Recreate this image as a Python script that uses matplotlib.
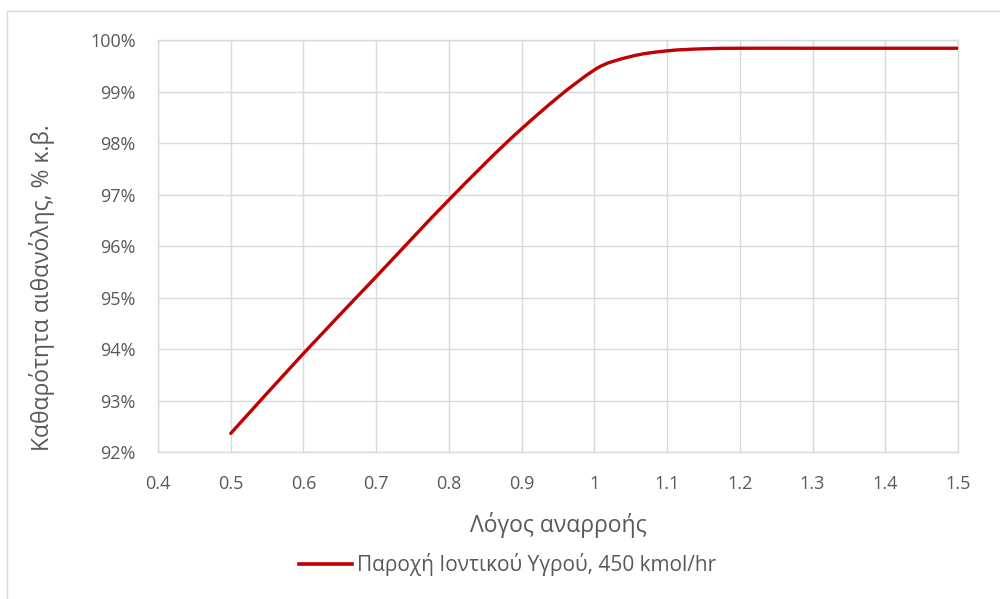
import numpy as np
import matplotlib.pyplot as plt
from matplotlib.path import Path
from matplotlib.patches import PathPatch, Rectangle
from matplotlib.lines import Line2D
from matplotlib.ticker import FuncFormatter

# Λόγος αναρροής και καθαρότητα αιθανόλης (% κ.β.)
reflux_ratio = [0.5, 0.6, 0.7, 0.8, 0.9, 1.0, 1.05, 1.1, 1.15, 1.2, 1.3, 1.4, 1.5]
purity = [92.37, 93.92, 95.41, 96.90, 98.28, 99.42, 99.68, 99.79, 99.83, 99.84,
          99.84, 99.84, 99.84]
series_label = 'Παροχή Ιοντικού Υγρού, 450 kmol/hr'

x_ticks = [0.4, 0.5, 0.6, 0.7, 0.8, 0.9, 1.0, 1.1, 1.2, 1.3, 1.4, 1.5]
y_ticks = [92, 93, 94, 95, 96, 97, 98, 99, 100]

text_color = '#595959'
grid_color = '#D9D9D9'
line_color = '#C00000'

plt.rcParams['font.family'] = ['Open Sans', 'DejaVu Sans']


def smooth_path(xs, ys):
    # εξομαλυμένη γραμμή: κυβικά τμήματα Bezier με κλίσεις από τα γειτονικά σημεία
    xs = np.asarray(xs, float)
    ys = np.asarray(ys, float)
    n = len(xs)
    m = np.empty(n)
    m[0] = (ys[1] - ys[0]) / (xs[1] - xs[0])
    m[-1] = (ys[-1] - ys[-2]) / (xs[-1] - xs[-2])
    m[1:-1] = (ys[2:] - ys[:-2]) / (xs[2:] - xs[:-2])
    verts = [(xs[0], ys[0])]
    codes = [Path.MOVETO]
    for i in range(n - 1):
        h = (xs[i + 1] - xs[i]) / 3
        verts += [(xs[i] + h, ys[i] + m[i] * h),
                  (xs[i + 1] - h, ys[i + 1] - m[i + 1] * h),
                  (xs[i + 1], ys[i + 1])]
        codes += [Path.CURVE4] * 3
    return Path(verts, codes)


fig = plt.figure(figsize=(10, 5.99), dpi=100)
ax = fig.add_axes([0.158, 0.2446, 0.8, 0.6886])

# πλαίσιο περιοχής γραφήματος
fig.patches.append(Rectangle((0.007, -0.01), 1.0, 0.992, transform=fig.transFigure,
                             fill=False, edgecolor='#D9D9D9', lw=1.0, zorder=0))

ax.add_patch(PathPatch(smooth_path(reflux_ratio, purity), fill=False,
                       edgecolor=line_color, lw=2.4, capstyle='round', zorder=3))

ax.set_xlim(0.4, 1.5)
ax.set_ylim(92, 100)
ax.set_xticks(x_ticks)
ax.set_yticks(y_ticks)
ax.xaxis.set_major_formatter(FuncFormatter(lambda v, p: f'{v:g}'))
ax.yaxis.set_major_formatter(FuncFormatter(lambda v, p: f'{v:.0f}%'))
ax.tick_params(length=0, labelsize=13, labelcolor=text_color)
ax.tick_params(axis='x', pad=16)
ax.tick_params(axis='y', pad=16)
ax.grid(True, color=grid_color, lw=1.0)
ax.set_axisbelow(True)
for s in ax.spines.values():
    s.set_color(grid_color)
    s.set_linewidth(1.0)

fig.text(0.558, 0.1235, 'Λόγος αναρροής', fontsize=16.5, color=text_color,
         ha='center', va='center')
fig.text(0.042, 0.519, 'Καθαρότητα αιθανόλης, % κ.β.', fontsize=16.5, color=text_color,
         ha='center', va='center', rotation=90)

handle = Line2D([], [], color=line_color, lw=2.6)
fig.legend([handle], [series_label], loc='center', bbox_to_anchor=(0.5075, 0.0568),
           frameon=False, fontsize=15, labelcolor=text_color, handlelength=2.55,
           handletextpad=0.25)

fig.savefig('out.png', dpi=100)
